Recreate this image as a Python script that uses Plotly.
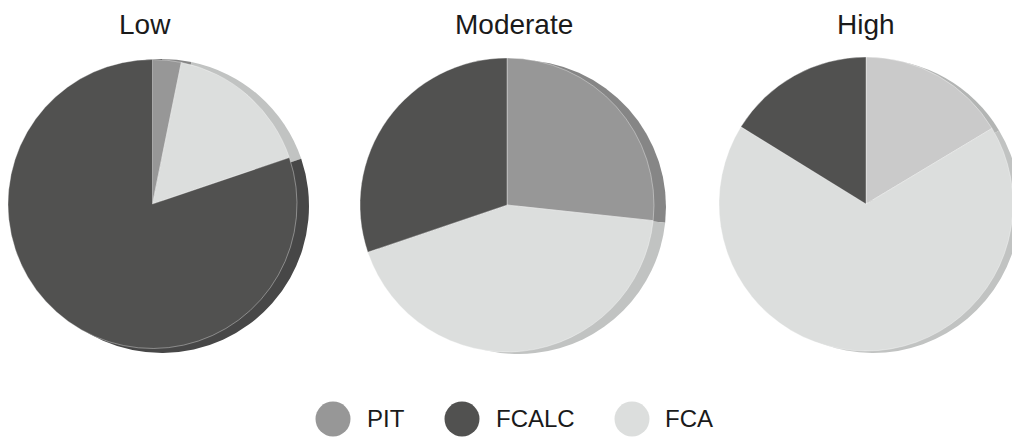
import plotly.graph_objects as go

# data (% share per group)
categories = ["PIT", "FCALC", "FCA"]
groups = ["Low", "Moderate", "High"]
low_values = [3.2, 80.2, 16.6]
moderate_values = [26.7, 30.2, 43.1]
high_values = [16.4, 16.2, 67.4]

# colours
colors = {"PIT": "#979797", "FCALC": "#515150", "FCA": "#dcdedd"}
side_colors = {"PIT": "#868686", "FCALC": "#474747", "FCA": "#c1c3c2"}
high_pit = "#cacaca"
high_pit_side = "#b3b5b4"

# page body has an 8px margin, so the figure is 8px smaller and positions are shifted
OFF = 8
W, H = 1020 - OFF, 439 - OFF
centers = [(150, 204), (507, 205), (866, 204)]
R = 147
DEPTH = 12
title_x = [144.5, 514, 866]
slice_order = ["PIT", "FCA", "FCALC"]   # clockwise from 12 o'clock


def px(x, y):
    return x - OFF, y - OFF


def dom(cx, cy, r):
    cx, cy = px(cx, cy)
    return dict(x=[max(0, (cx - r) / W), min(1, (cx + r) / W)],
                y=[max(0, (H - cy - r) / H), min(1, (H - cy + r) / H)])


fig = go.Figure()

for gi, (name, vals) in enumerate(zip(groups, [low_values, moderate_values, high_values])):
    lab = slice_order
    v = [vals[categories.index(c)] for c in lab]
    top = [colors[c] for c in lab]
    side = [side_colors[c] for c in lab]
    if name == "High":
        top[0] = high_pit
        side[0] = high_pit_side
    cx, cy = centers[gi]
    depth = min(DEPTH, (W + OFF) - cx - R)
    # side / depth of the disc
    fig.add_trace(go.Pie(
        labels=lab, values=v, sort=False, direction="clockwise", rotation=0,
        marker=dict(colors=side, line=dict(width=0)),
        textinfo="none", hoverinfo="skip", showlegend=False,
        domain=dom(cx + depth, cy + 2, R)))
    # top face
    fig.add_trace(go.Pie(
        labels=lab, values=v, sort=False, direction="clockwise", rotation=0,
        marker=dict(colors=top, line=dict(color="rgba(255,255,255,0.45)", width=0.8)),
        textinfo="none", hovertemplate="%{label}: %{value}%<extra>" + name + "</extra>",
        showlegend=False, domain=dom(cx, cy, R)))

annotations = []
for gi, name in enumerate(groups):
    tx, _ = px(title_x[gi], 0)
    annotations.append(dict(
        text=name, x=tx / W, y=1, xref="paper", yref="paper",
        xanchor="center", yanchor="top", showarrow=False, borderpad=0,
        font=dict(family="Liberation Sans, Arial", size=28, color="#1a1a1a")))

# hand-made legend with large round markers
legend_cx = [333, 462, 632]
legend_tx = [365, 494, 663]
legend_cy = 419
shapes = []
for i, c in enumerate(categories):
    mx, my = px(legend_cx[i], legend_cy)
    shapes.append(dict(
        type="circle", xref="paper", yref="paper",
        x0=(mx - 17.5) / W, x1=(mx + 17.5) / W,
        y0=(H - my - 17.5) / H, y1=(H - my + 17.5) / H,
        fillcolor=colors[c], line=dict(width=0)))
    lx, ly = px(legend_tx[i], legend_cy)
    annotations.append(dict(
        text=c, x=lx / W, y=(H - ly + 1) / H, xref="paper", yref="paper",
        xanchor="left", yanchor="middle", showarrow=False,
        font=dict(family="Liberation Sans, Arial", size=24, color="#1a1a1a")))

fig.update_layout(
    width=W, height=H,
    margin=dict(l=0, r=0, t=0, b=0),
    paper_bgcolor="white",
    plot_bgcolor="white",
    annotations=annotations,
    shapes=shapes,
    showlegend=False,
)

fig.write_html("out.html")
